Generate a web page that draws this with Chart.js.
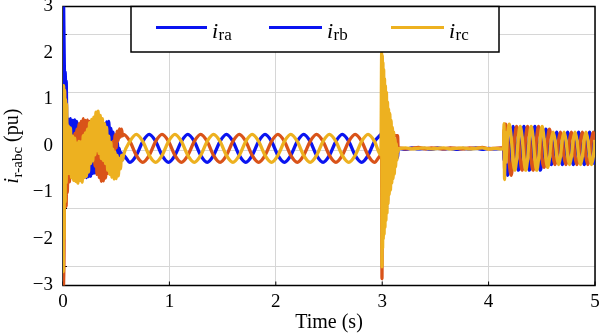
<!DOCTYPE html>
<html>
<head>
<meta charset="utf-8">
<title>Rotor currents</title>
<script src="https://cdn.jsdelivr.net/npm/chart.js@4/dist/chart.umd.min.js"></script>
<style>
  html, body { margin: 0; padding: 0; background: #fff; }
  canvas { display: block; }
</style>
</head>
<body>
<canvas id="rotorChart" width="600" height="334"></canvas>
<script>
// Rotor phase currents i_ra, i_rb, i_rc (pu) against time (s).
// Five stretches: start-up transient, steady state, fault at 3 s,
// blocked converter, and recovery after 4.15 s.

const tStart = [0, 0.003, 0.006, 0.01, 0.015, 0.02, 0.025, 0.03, 0.035, 0.04,
  0.05, 0.06, 0.07, 0.08, 0.09, 0.10, 0.11, 0.12, 0.13, 0.14,
  0.15, 0.16, 0.17, 0.18, 0.19, 0.20, 0.21, 0.22, 0.23, 0.24,
  0.25, 0.26, 0.27, 0.28, 0.29, 0.30, 0.31, 0.32, 0.33, 0.34,
  0.35, 0.36, 0.37, 0.38, 0.39, 0.40, 0.41, 0.42, 0.43, 0.44,
  0.45, 0.46, 0.47, 0.48, 0.49, 0.50, 0.51, 0.52, 0.53, 0.54, 0.55, 0.56];
const iraStart = [0, 3.3, 3.0, 2.2, 1.5, 1.6, 1.3, 1.4, 0.6, 0.1,
  0.58, 0.01, 0.59, 0.0, 0.55, 0.03, 0.56, 0.07, 0.53, -0.18,
  0.37, -0.25, 0.19, -0.44, 0.10, -0.62, 0.02, -0.68, -0.13, -0.66,
  -0.14, -0.65, -0.2, -0.59, -0.11, -0.58, -0.04, -0.54, 0.12, -0.41,
  0.21, -0.32, 0.40, -0.14, 0.47, -0.03, 0.52, 0.11, 0.53, 0.05,
  0.38, 0.0, 0.30, -0.05, 0.18, -0.15, 0.08, -0.25, -0.05, -0.3, -0.15, -0.3];
const irbStart = [0, -3.2, -2.9, -2.2, 1.2, -0.6, 0.9, -1.3, 0.5, -1.0,
  -0.06, -0.77, -0.03, -0.62, 0.09, -0.45, 0.27, -0.31, 0.36, -0.22,
  0.48, -0.07, 0.53, -0.04, 0.59, 0.05, 0.55, -0.06, 0.56, -0.07,
  0.53, -0.12, 0.38, -0.29, 0.29, -0.43, 0.15, -0.61, 0.03, -0.68,
  -0.12, -0.76, -0.13, -0.75, -0.2, -0.69, -0.17, -0.59, -0.14, -0.49,
  -0.03, -0.37, 0.10, -0.18, 0.24, -0.04, 0.32, 0.12, 0.37, 0.19, 0.36, 0.22];
const ircStart = [0, -2.7, 1.3, -2.0, 1.2, -1.2, 1.0, -0.8, 0.9, -0.6,
  0.43, -0.59, 0.39, -0.68, 0.21, -0.74, 0.17, -0.76, 0.06, -0.80,
  0.10, -0.74, 0.09, -0.78, 0.22, -0.68, 0.28, -0.65, 0.36, -0.56,
  0.50, -0.38, 0.57, -0.32, 0.62, -0.19, 0.73, -0.10, 0.75, -0.16,
  0.66, -0.27, 0.59, -0.31, 0.48, -0.38, 0.40, -0.52, 0.21, -0.61,
  0.08, -0.67, -0.07, -0.71, -0.13, -0.70, -0.20, -0.64, -0.27, -0.49, -0.20, -0.30];

const tSteady = [0.568, 0.629, 0.689, 0.750, 0.810, 0.871, 0.931, 0.992, 1.052, 1.113,
  1.173, 1.234, 1.294, 1.355, 1.415, 1.476, 1.536, 1.597, 1.657, 1.718,
  1.778, 1.839, 1.899, 1.960, 2.020, 2.081, 2.141, 2.202, 2.262, 2.323,
  2.383, 2.444, 2.504, 2.565, 2.625, 2.686, 2.746, 2.807, 2.867, 2.928, 2.988];
const iraSteady = [-0.20, -0.35, -0.20, 0.10, 0.25, 0.10, -0.20, -0.35, -0.20, 0.10,
  0.25, 0.10, -0.20, -0.35, -0.20, 0.10, 0.25, 0.10, -0.20, -0.35,
  -0.20, 0.10, 0.25, 0.10, -0.20, -0.35, -0.20, 0.10, 0.25, 0.10,
  -0.20, -0.35, -0.20, 0.10, 0.25, 0.10, -0.20, -0.35, -0.20, 0.10, 0.25];
const irbSteady = [0.25, 0.10, -0.20, -0.35, -0.20, 0.10, 0.25, 0.10, -0.20, -0.35,
  -0.20, 0.10, 0.25, 0.10, -0.20, -0.35, -0.20, 0.10, 0.25, 0.10,
  -0.20, -0.35, -0.20, 0.10, 0.25, 0.10, -0.20, -0.35, -0.20, 0.10,
  0.25, 0.10, -0.20, -0.35, -0.20, 0.10, 0.25, 0.10, -0.20, -0.35, -0.20];
const ircSteady = [-0.20, 0.10, 0.25, 0.10, -0.20, -0.35, -0.20, 0.10, 0.25, 0.10,
  -0.20, -0.35, -0.20, 0.10, 0.25, 0.10, -0.20, -0.35, -0.20, 0.10,
  0.25, 0.10, -0.20, -0.35, -0.20, 0.10, 0.25, 0.10, -0.20, -0.35,
  -0.20, 0.10, 0.25, 0.10, -0.20, -0.35, -0.20, 0.10, 0.25, 0.10, -0.20];

const tFault = [2.995, 2.998, 3.001, 3.004, 3.007, 3.010, 3.014, 3.018, 3.022, 3.026,
  3.030, 3.035, 3.040, 3.045, 3.050, 3.055, 3.060, 3.066, 3.072, 3.078,
  3.084, 3.090, 3.096, 3.102, 3.108, 3.114, 3.120, 3.126, 3.132, 3.138,
  3.145, 3.150, 3.155];
const iraFault = [0.3, 0.5, -0.9, 0.45, -1.2, 0.4, -1.45, 0.35, -1.55, 0.3,
  -1.5, 0.25, -1.35, 0.2, -1.2, 0.15, -1.0, 0.1, -0.85, 0.0,
  -0.6, -0.25, -0.25, -0.25, -0.25, -0.25, -0.25, -0.25, -0.25, -0.25,
  -0.25, -0.05, -0.05];
const irbFault = [-0.3, -2.85, -0.2, -0.5, 0.1, -0.4, 0.15, -0.35, 0.2, -0.3,
  0.2, -0.25, 0.2, -0.2, 0.2, -0.15, 0.2, -0.1, 0.2, 0.0,
  0.2, 0.22, 0.22, 0.22, 0.22, 0.22, 0.22, 0.22, 0.22, 0.22,
  0.22, -0.05, -0.05];
const ircFault = [2.0, -2.6, 1.95, -2.2, 1.8, -2.0, 1.65, -1.9, 1.45, -1.75,
  1.3, -1.6, 1.15, -1.45, 0.95, -1.25, 0.8, -1.05, 0.7, -0.95,
  0.55, -0.8, 0.4, -0.7, 0.3, -0.6, 0.15, -0.45, 0.05, -0.3,
  -0.05, -0.12, -0.05];

const tFlat = [3.16, 3.22, 3.28, 3.34, 3.40, 3.46, 3.52, 3.58, 3.64, 3.70,
  3.76, 3.82, 3.88, 3.94, 4.00, 4.06, 4.12];
const iraFlat = [-0.05, -0.07, -0.04, -0.06, -0.05, -0.07, -0.04, -0.06, -0.05, -0.07,
  -0.05, -0.06, -0.04, -0.07, -0.05, -0.06, -0.05];
const irbFlat = [-0.04, -0.06, -0.05, -0.03, -0.06, -0.04, -0.05, -0.06, -0.04, -0.05,
  -0.06, -0.04, -0.05, -0.03, -0.06, -0.05, -0.04];
const ircFlat = [-0.05, -0.04, -0.06, -0.05, -0.04, -0.06, -0.05, -0.04, -0.06, -0.05,
  -0.04, -0.06, -0.05, -0.04, -0.06, -0.05, -0.06];

const tRestore = [4.140, 4.145, 4.150, 4.155,
  4.160, 4.177, 4.194, 4.212, 4.229, 4.246, 4.263, 4.280, 4.297, 4.315,
  4.332, 4.349, 4.366, 4.383, 4.400, 4.418, 4.435, 4.452, 4.469, 4.486,
  4.503, 4.521, 4.538, 4.555, 4.572, 4.589, 4.606, 4.624, 4.641, 4.658,
  4.675, 4.692, 4.709, 4.727, 4.744, 4.761, 4.778, 4.795, 4.812, 4.830,
  4.847, 4.864, 4.881, 4.898, 4.915, 4.933, 4.950, 4.967, 4.984, 5.000];
const iraRestore = [-0.05, -0.3, 0.1, -0.4,
  -0.36, -0.63, -0.36, 0.20, 0.42, 0.19, -0.29, -0.52, -0.29, 0.19,
  0.42, 0.19, -0.29, -0.52, -0.29, 0.19, 0.42, 0.19, -0.29, -0.52,
  -0.29, 0.16, 0.36, 0.16, -0.26, -0.40, -0.23, 0.13, 0.30, 0.13,
  -0.23, -0.40, -0.23, 0.13, 0.30, 0.13, -0.23, -0.40, -0.23, 0.13,
  0.30, 0.13, -0.23, -0.40, -0.23, 0.13, 0.30, 0.13, -0.23, -0.40];
const irbRestore = [-0.05, 0.35, -0.5, 0.4,
  0.47, 0.20, -0.36, -0.63, -0.29, 0.19, 0.42, 0.19, -0.29, -0.52,
  -0.29, 0.19, 0.42, 0.19, -0.29, -0.52, -0.29, 0.19, 0.42, 0.19,
  -0.29, -0.46, -0.26, 0.16, 0.36, 0.13, -0.23, -0.40, -0.23, 0.13,
  0.30, 0.13, -0.23, -0.40, -0.23, 0.13, 0.30, 0.13, -0.23, -0.40,
  -0.23, 0.13, 0.30, 0.13, -0.23, -0.40, -0.23, 0.13, 0.30, 0.13];
const ircRestore = [-0.05, 0.48, -0.72, 0.3,
  -0.36, 0.20, 0.47, 0.20, -0.29, -0.52, -0.29, 0.19, 0.42, 0.19,
  -0.29, -0.52, -0.29, 0.19, 0.42, 0.19, -0.29, -0.52, -0.29, 0.19,
  0.42, 0.16, -0.26, -0.46, -0.26, 0.13, 0.30, 0.13, -0.23, -0.40,
  -0.23, 0.13, 0.30, 0.13, -0.23, -0.40, -0.23, 0.13, 0.30, 0.13,
  -0.23, -0.40, -0.23, 0.13, 0.30, 0.13, -0.23, -0.40, -0.23, 0.13];

const yTicks = [-3, -2, -1, 0, 1, 2, 3];
const gridLevels = [2.406, 1.161, -0.084, -1.329, -2.574];  // horizontal grid (pu)

const BLUE = "#0a14f0";
const RED = "#d95319";
const YELLOW = "#edb120";
const GRID = "#d6d6d6";
const SERIF = "'Liberation Serif', 'Times New Roman', serif";

const time = [...tStart, ...tSteady, ...tFault, ...tFlat, ...tRestore];
const ira = [...iraStart, ...iraSteady, ...iraFault, ...iraFlat, ...iraRestore];
const irb = [...irbStart, ...irbSteady, ...irbFault, ...irbFlat, ...irbRestore];
const irc = [...ircStart, ...ircSteady, ...ircFault, ...ircFlat, ...ircRestore];

const points = (ys) => time.map((t, i) => ({ x: t, y: ys[i] }));

function trace(label, ys, color, order) {
  return {
    label, data: points(ys), order,
    borderColor: color, borderWidth: 3.3,
    pointRadius: 0, cubicInterpolationMode: "monotone",
    clip: 0,
  };
}

// horizontal grid, plot frame and small inward tick marks
const frame = {
  id: "frame",
  beforeDatasetsDraw(chart) {
    const { ctx, chartArea: a, scales } = chart;
    ctx.save();
    ctx.strokeStyle = GRID;
    ctx.lineWidth = 1;
    ctx.beginPath();
    gridLevels.forEach((v) => {
      const y = Math.round(scales.y.getPixelForValue(v)) + 0.5;
      ctx.moveTo(a.left, y); ctx.lineTo(a.right, y);
    });
    ctx.stroke();

    ctx.strokeStyle = "#000";
    ctx.beginPath();
    gridLevels.forEach((v) => {
      const y = Math.round(scales.y.getPixelForValue(v)) + 0.5;
      ctx.moveTo(a.left, y); ctx.lineTo(a.left + 4, y);
    });
    [0, 1, 2, 3, 4, 5].forEach((v) => {
      const x = scales.x.getPixelForValue(v);
      ctx.moveTo(x, a.bottom); ctx.lineTo(x, a.bottom - 4);
    });
    ctx.stroke();
    ctx.lineWidth = 1.5;
    ctx.strokeRect(a.left, a.top, a.right - a.left, a.bottom - a.top);
    ctx.restore();
  },
};

function subscripted(ctx, x, y, main, sub, size, subSize, drop) {
  ctx.font = `italic ${size}px ${SERIF}`;
  ctx.fillText(main, x, y);
  const w = ctx.measureText(main).width;
  ctx.font = `${subSize}px ${SERIF}`;
  ctx.fillText(sub, x + w + 0.5, y + drop);
  return x + w + 0.5 + ctx.measureText(sub).width;
}

const legendBox = {
  id: "legendBox",
  afterDatasetsDraw(chart) {
    const { ctx } = chart;
    const entries = [
      { x0: 156, x1: 207, color: BLUE, sub: "ra" },
      { x0: 269, x1: 322, color: BLUE, sub: "rb" },
      { x0: 391, x1: 444, color: YELLOW, sub: "rc" },
    ];
    ctx.save();
    ctx.fillStyle = "#fff";
    ctx.fillRect(131, 6.5, 368, 45.5);
    ctx.strokeStyle = "#000";
    ctx.lineWidth = 1.5;
    ctx.strokeRect(131, 6.5, 368, 45.5);
    entries.forEach((e) => {
      ctx.strokeStyle = e.color;
      ctx.lineWidth = 3;
      ctx.beginPath();
      ctx.moveTo(e.x0, 27.5); ctx.lineTo(e.x1, 27.5);
      ctx.stroke();
      ctx.fillStyle = "#000";
      ctx.textBaseline = "alphabetic";
      subscripted(ctx, e.x1 + 5, 37.5, "i", e.sub, 22, 17, 2.5);
    });
    ctx.restore();
  },
};

const yTitle = {
  id: "yTitle",
  afterDraw(chart) {
    const { ctx, chartArea: a } = chart;
    ctx.save();
    ctx.translate(18, (a.top + a.bottom) / 2);
    ctx.rotate(-Math.PI / 2);
    ctx.fillStyle = "#000";
    ctx.textBaseline = "alphabetic";
    ctx.font = `italic 20px ${SERIF}`;
    const wi = ctx.measureText("i").width;
    ctx.font = `15px ${SERIF}`;
    const ws = ctx.measureText("r-abc").width;
    ctx.font = `20px ${SERIF}`;
    const wu = ctx.measureText(" (pu)").width;
    const x0 = -(wi + 0.5 + ws + wu) / 2;
    const x1 = subscripted(ctx, x0, 0, "i", "r-abc", 20, 15, 3.5);
    ctx.font = `20px ${SERIF}`;
    ctx.fillText(" (pu)", x1, 0);
    ctx.restore();
  },
};

const minus = (v) => (v < 0 ? "\u2212" + Math.abs(v) : String(v));

new Chart(document.getElementById("rotorChart"), {
  type: "line",
  data: {
    datasets: [
      trace("ira", ira, BLUE, 3),
      trace("irb", irb, RED, 2),
      trace("irc", irc, YELLOW, 1),
    ],
  },
  options: {
    responsive: false,
    animation: false,
    devicePixelRatio: 1,
    events: [],
    layout: { padding: { left: 0, right: 5, top: 6.5, bottom: 0 } },
    plugins: { legend: { display: false }, tooltip: { enabled: false } },
    scales: {
      x: {
        type: "linear", min: 0, max: 5,
        ticks: { stepSize: 1, padding: 5, color: "#000", font: { family: SERIF, size: 19 } },
        grid: { color: GRID, drawTicks: false },
        border: { display: false },
        title: {
          display: true, text: "Time (s)", color: "#000",
          font: { family: SERIF, size: 20, lineHeight: 1 }, padding: { top: 0, bottom: 1 },
        },
        afterFit(s) { s.height = 48.5; s.paddingLeft = 0; s.paddingRight = 0; },
      },
      y: {
        min: -3, max: 3,
        ticks: { stepSize: 1, padding: 10, color: "#000", font: { family: SERIF, size: 19 }, callback: minus },
        grid: { display: false, drawTicks: false },
        border: { display: false },
        afterBuildTicks(s) { s.ticks = yTicks.map((v) => ({ value: v })); },
        afterFit(s) { s.width = 63; s.paddingTop = 0; s.paddingBottom = 0; },
      },
    },
  },
  plugins: [frame, legendBox, yTitle],
});
</script>
</body>
</html>
